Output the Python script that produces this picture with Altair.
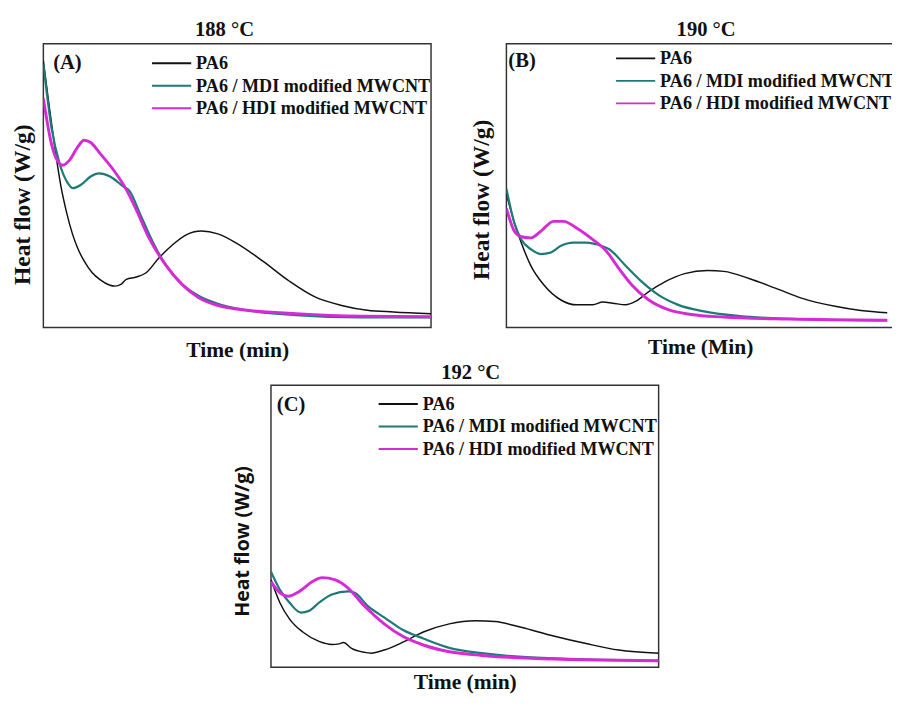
import altair as alt
import pandas as pd

SERIES = ["PA6", "PA6 / MDI modified MWCNT", "PA6 / HDI modified MWCNT"]
COLORS = ["#111111", "#1e7a78", "#d62ad6"]
WIDTHS = [1.5, 3, 3]

TITLES = ["188 \u00b0C", "190 \u00b0C", "192 \u00b0C"]
LABELS = ["(A)", "(B)", "(C)"]
XTITLES = ["Time (min)", "Time (Min)", "Time (min)"]
YTITLE = "Heat flow (W/g)"

# ---- Panel A (188 C) : time (% of span), heat flow (% of span)
A_PA6_t = [0, 1.5, 3.0, 4.5, 6.0, 7.5, 9.0, 10.5, 12.5, 14.7, 17.0, 18.5, 20.0, 21.4, 24.0, 26.5, 29.8, 33.2, 36.6, 40.8, 45.0, 50.0, 56.7, 63.4, 70.2, 76.9, 83.6, 90.3, 100]
A_PA6_h = [94.0, 78.0, 63.0, 50.0, 40.5, 33.0, 27.5, 23.5, 19.5, 16.8, 15.0, 14.6, 15.2, 17.0, 17.8, 19.3, 24.5, 29.0, 32.5, 34.0, 33.0, 29.6, 23.3, 16.4, 10.7, 7.8, 6.1, 5.5, 4.9]
A_MDI_t = [0, 2.1, 4.2, 6.3, 7.6, 9.7, 12.2, 14.3, 17.2, 20.6, 22.3, 24.8, 28.2, 31.5, 35.7, 39.9, 45.0, 52.5, 65.1, 81.9, 100]
A_MDI_h = [92.8, 70.4, 57.7, 50.9, 49.1, 50.3, 53.2, 54.3, 53.2, 49.7, 48.0, 40.5, 30.2, 22.2, 15.3, 11.3, 8.4, 6.1, 4.4, 3.6, 3.6]
A_HDI_t = [0, 2.1, 4.2, 5.0, 6.7, 8.8, 10.5, 12.2, 14.7, 18.1, 21.4, 23.9, 27.3, 31.5, 35.7, 39.9, 45.0, 52.5, 65.1, 81.9, 100]
A_HDI_h = [80.7, 64.6, 57.7, 57.2, 58.9, 63.5, 66.0, 65.2, 61.2, 55.5, 48.6, 41.7, 31.4, 22.2, 15.3, 10.7, 7.8, 6.1, 4.9, 4.0, 3.8]

# ---- Panel B (190 C)
B_PA6_t = [0, 2.1, 3.9, 6.4, 9.9, 14.2, 18.5, 22.7, 25.3, 27.9, 31.3, 33.9, 37.3, 41.6, 46.8, 52.8, 57.1, 63.9, 70.8, 77.7, 86.3, 93.1, 100]
B_PA6_h = [47.1, 36.8, 29.9, 21.8, 14.9, 9.8, 8.0, 8.0, 9.0, 8.6, 8.0, 9.2, 12.6, 16.1, 19.0, 20.1, 19.8, 17.2, 13.8, 10.3, 7.5, 6.0, 5.2]
B_MDI_t = [0, 2.1, 3.9, 6.4, 9.0, 11.6, 14.2, 17.6, 21.0, 24.5, 27.0, 31.3, 35.6, 39.9, 45.1, 51.9, 61.4, 74.2, 100]
B_MDI_h = [48.9, 36.8, 31.0, 27.6, 25.9, 26.4, 28.7, 29.9, 29.9, 29.0, 27.6, 21.8, 16.1, 11.5, 8.0, 5.7, 4.0, 3.1, 2.5]
B_HDI_t = [0, 2.1, 3.9, 6.4, 9.0, 12.4, 15.0, 18.5, 22.7, 26.2, 29.6, 33.0, 37.3, 42.5, 48.5, 57.1, 74.2, 100]
B_HDI_h = [42.0, 33.9, 32.0, 31.6, 33.9, 37.4, 37.4, 35.0, 31.0, 27.0, 20.7, 14.9, 9.8, 6.3, 4.6, 3.7, 3.0, 2.6]

# ---- Panel C (192 C)
C_PA6_t = [0, 2.3, 4.8, 8.2, 12.4, 15.7, 17.6, 18.7, 20.8, 24.1, 25.8, 29.2, 34.2, 39.3, 46.0, 52.7, 57.8, 64.5, 72.9, 81.3, 89.7, 100]
C_PA6_h = [31.0, 22.9, 17.1, 12.5, 9.2, 8.1, 8.3, 8.8, 6.7, 5.3, 5.0, 6.1, 9.0, 12.5, 15.4, 16.5, 16.2, 14.2, 11.1, 8.4, 6.1, 5.0]
C_MDI_t = [0, 2.3, 4.8, 7.7, 9.8, 12.4, 15.7, 19.9, 21.6, 25.0, 29.2, 34.2, 39.3, 46.0, 54.4, 67.0, 100]
C_MDI_h = [33.9, 27.5, 22.9, 19.4, 20.0, 22.9, 25.8, 26.9, 26.4, 21.7, 17.7, 13.1, 10.2, 6.9, 5.0, 3.5, 2.3]
C_HDI_t = [0, 2.3, 4.4, 7.3, 10.7, 13.2, 16.6, 19.9, 24.1, 29.2, 34.2, 39.3, 46.0, 54.4, 67.0, 100]
C_HDI_h = [30.4, 26.4, 25.2, 26.9, 30.4, 31.8, 31.0, 28.1, 21.7, 15.4, 10.8, 7.9, 5.5, 4.2, 3.2, 2.3]

SERIF = "Liberation Serif"


def frame(ts, hs):
    rows = []
    for i, (t, h) in enumerate(zip(ts, hs)):
        for tt, hh in zip(t, h):
            rows.append({"t": tt, "hf": hh, "series": SERIES[i], "k": i})
    return pd.DataFrame(rows)


def panel(df, idx, w, h, xmax, ytitle_font, ytitle_weight, ytitle_size,
          ypad, ytitle_y, xpad, xtitle_x, leg_x, leg_y, lab_x, lab_y,
          title_offset, title_dx, extend_right=0):
    lines = alt.Chart(df).mark_line(interpolate="monotone", clip=True).encode(
        x=alt.X("t:Q", scale=alt.Scale(domain=[0, xmax], nice=False, zero=False),
                axis=alt.Axis(title=XTITLES[idx], labels=False, ticks=False, domain=False,
                              grid=False, titleFont=SERIF, titleFontSize=22,
                              titleFontWeight="bold", titleColor="#111",
                              titlePadding=xpad, titleX=xtitle_x)),
        y=alt.Y("hf:Q", scale=alt.Scale(domain=[0, 100], nice=False),
                axis=alt.Axis(title=YTITLE, labels=False, ticks=False, domain=False,
                              grid=False, titleFont=ytitle_font, titleFontSize=ytitle_size,
                              titleFontWeight=ytitle_weight, titleColor="#111",
                              titlePadding=ypad, titleY=ytitle_y, titleAlign="center")),
        color=alt.Color("series:N", scale=alt.Scale(domain=SERIES, range=COLORS),
                        legend=alt.Legend(title=None, orient="none", legendX=leg_x, legendY=leg_y,
                                          symbolType="stroke", symbolSize=1600,
                                          symbolStrokeWidth=2, labelFont=SERIF,
                                          labelFontWeight="bold", labelFontSize=18.5,
                                          labelColor="#111", labelOffset=4,
                                          clipHeight=22, rowPadding=1, padding=0,
                                          labelLimit=400)),
        strokeWidth=alt.StrokeWidth("series:N", scale=alt.Scale(domain=SERIES, range=WIDTHS),
                                    legend=None),
        order="k:Q",
    )
    lab = alt.Chart(pd.DataFrame({"label": [LABELS[idx]]})).mark_text(
        font=SERIF, fontSize=21, fontWeight="bold", align="left", baseline="middle",
        color="#111").encode(x=alt.value(lab_x), y=alt.value(lab_y), text="label:N")
    layers = [lines, lab]
    if extend_right:
        # blank spacer so the centred bottom panel sits where the reference has it
        spacer = alt.Chart(pd.DataFrame({"s": [" "]})).mark_text(
            align="left", baseline="middle", fontSize=11, opacity=0).encode(
            x=alt.value(w + extend_right), y=alt.value(h / 2), text="s:N")
        layers.append(spacer)
    return alt.layer(*layers).properties(
        width=w, height=h,
        title=alt.TitleParams(TITLES[idx], font=SERIF, fontSize=21, fontWeight="bold",
                              color="#111", offset=title_offset, anchor="middle", dx=title_dx),
    )


dfA = frame([A_PA6_t, A_MDI_t, A_HDI_t], [A_PA6_h, A_MDI_h, A_HDI_h])
dfB = frame([B_PA6_t, B_MDI_t, B_HDI_t], [B_PA6_h, B_MDI_h, B_HDI_h])
dfC = frame([C_PA6_t, C_MDI_t, C_HDI_t], [C_PA6_h, C_MDI_h, C_HDI_h])

pA = panel(dfA, 0, 396, 290, 100, SERIF, "bold", 24, 9, 164, 13, 198,
           110, 9, 10, 20, 4, -13)
pB = panel(dfB, 1, 396, 290, 101.8, SERIF, "bold", 24, 13, 159, 9, 198,
           111, 4, 2, 18, 4, 6)
pC = panel(dfC, 2, 396, 288, 100, "Open Sans", "bold", 20, 19, 159, 5, 198,
           109, 8, 6, 20, 2, 6, extend_right=9)

top = alt.hconcat(pA, pB, spacing=38).resolve_legend(color="independent")
chart = alt.vconcat(top, pC, spacing=0, center=True).resolve_legend(
    color="independent"
).properties(
    padding={"top": 3, "left": 2, "right": -4, "bottom": -1}
).configure(background="white").configure_view(stroke="#333", strokeWidth=1.5)

chart.save("out.html", embed_options={"renderer": "svg", "actions": False})
